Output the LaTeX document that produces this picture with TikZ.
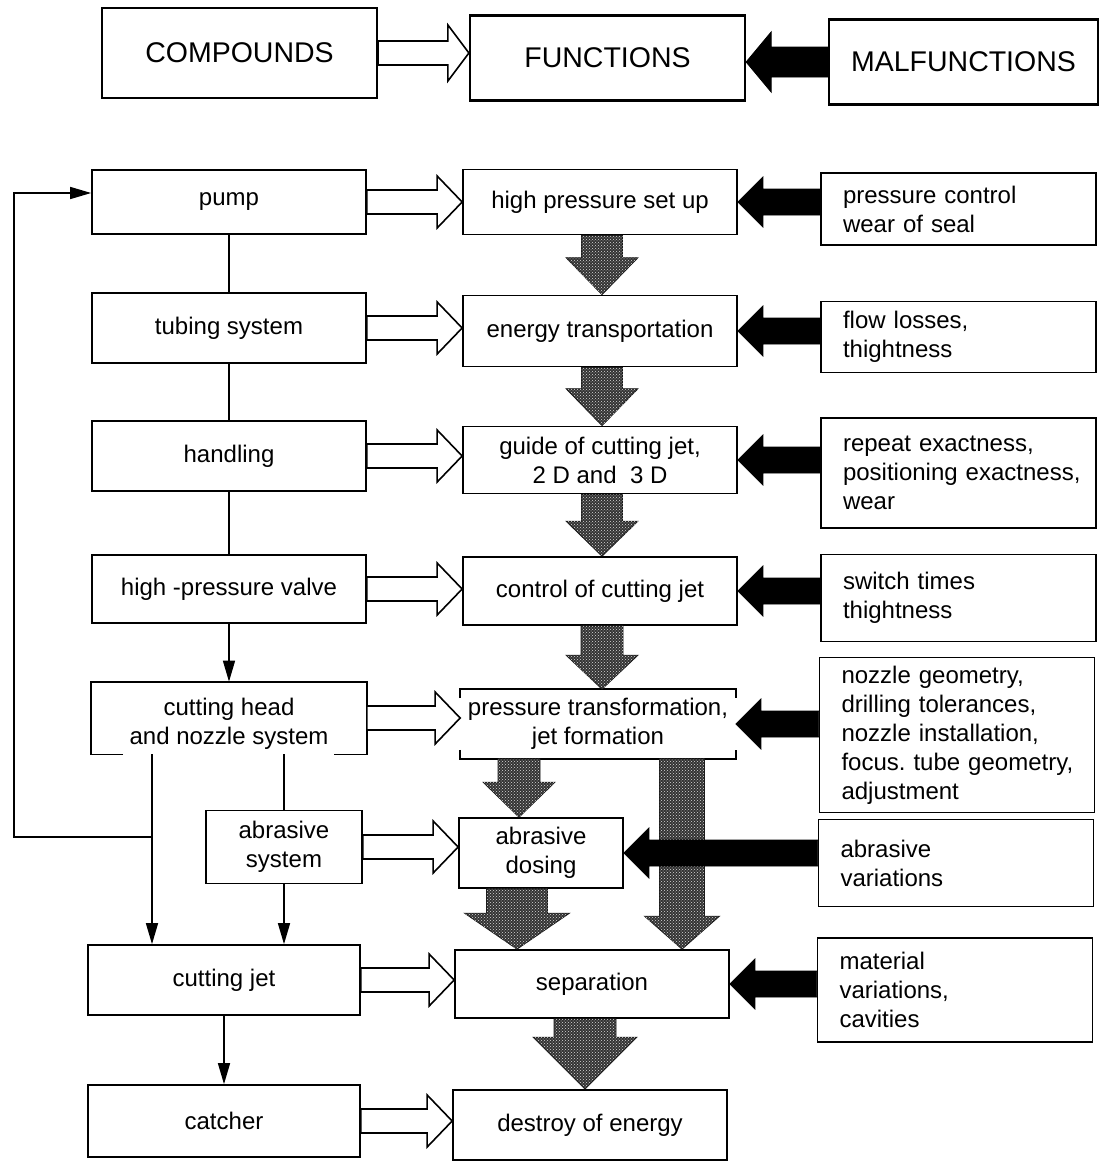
\documentclass[tikz,border=0pt]{standalone}
\usepackage{fontspec}
\setmainfont{Liberation Sans}
\usetikzlibrary{calc,patterns,arrows.meta}
\newcommand\blockarr[6]{%
  \path (#2) coordinate (ba-s) (#3) coordinate (ba-t);
  \path ($(ba-t)!#6!(ba-s)$) coordinate (ba-h);
  \path[#1] ($(ba-s)!#4!90:(ba-t)$) -- ($(ba-h)!#4!90:(ba-t)$) -- ($(ba-h)!#5!90:(ba-t)$) -- (ba-t) -- ($(ba-h)!#5!-90:(ba-t)$) -- ($(ba-h)!#4!-90:(ba-t)$) -- ($(ba-s)!#4!-90:(ba-t)$) -- cycle;}
\tikzset{
  bx/.style={draw, line width=1.7pt, inner sep=0pt, align=center, font=\fontsize{24}{29}\selectfont},
  rbx/.style={draw, line width=1.7pt, inner xsep=22pt, inner ysep=0pt, text width=231pt, align=left, font=\fontsize{24}{29}\selectfont},
  topbx/.style={draw, line width=2.2pt, inner sep=0pt, font=\fontsize{28.5}{34}\selectfont},
  conn/.style={line width=1.5pt},
  conarr/.style={conn, -{Triangle[length=21pt,width=12pt]}},
  openarr/.style={draw, fill=white, line width=1.6pt, line join=miter},
  blackarr/.style={draw=black, fill=black, line width=0.8pt, line join=miter},
  grayarr/.style={draw=black!90, fill=black!80, line width=0.8pt, line join=miter, postaction={pattern=crosshatch dots, pattern color=white!85!black}},
}
\begin{document}
\begin{tikzpicture}[x=1pt,y=-1pt]
\useasboundingbox (0,0) rectangle (1106,1162);
\fill[white] (0,0) rectangle (1106,1162);

% top row
\node[topbx, minimum width=275pt, minimum height=90pt] (cmp) at (239.5,53) {COMPOUNDS};
\node[topbx, minimum width=275pt, minimum height=85pt] (fun) at (607.5,58) {FUNCTIONS};
\node[topbx, minimum width=269pt, minimum height=85pt] (mal) at (963.5,62) {MALFUNCTIONS};

% left column
\node[bx, minimum width=274pt, minimum height=64pt] (pump) at (229,202) {pump};
\node[bx, minimum width=274pt, minimum height=70pt] (tub) at (229,328) {tubing system};
\node[bx, minimum width=274pt, minimum height=70pt] (han) at (229,456) {handling};
\node[bx, minimum width=274pt, minimum height=68pt] (val) at (229,589) {high -pressure valve};
\node[bx, draw=none, minimum width=274pt, minimum height=71pt] (ch) at (229,718) {};
\node[bx, draw=none] (cht) at (229,724) {cutting head\\and nozzle system};
\draw[line width=1.7pt] ([xshift=32pt]ch.south west) -- (ch.south west) -- (ch.north west) -- (ch.north east) -- (ch.south east) -- ([xshift=-33pt]ch.south east);
\node[bx, minimum width=156pt, minimum height=73pt] (as) at (284,847) {abrasive\\system};
\node[bx, minimum width=272pt, minimum height=70pt] (cj) at (224,980) {cutting jet};
\node[bx, minimum width=272pt, minimum height=72pt] (cat) at (224,1121) {catcher};

% middle column
\node[bx, minimum width=274pt, minimum height=65pt] (hps) at (600,202) {high pressure set up};
\node[bx, minimum width=274pt, minimum height=71pt] (ene) at (600,331) {energy transportation};
\node[bx, minimum width=274pt, minimum height=67pt] (gui) at (600,460) {guide of cutting jet,\\2 D and \ 3 D};
\node[bx, minimum width=274pt, minimum height=68pt] (con) at (600,591) {control of cutting jet};
\node[bx, draw=none, minimum width=274pt, minimum height=68pt] (pt) at (598,724) {pressure transformation,\\jet formation};
\draw[line width=1.7pt] ([yshift=-9pt]pt.north west) -- (pt.north west) -- (pt.north east) -- ([yshift=-9pt]pt.north east);
\draw[line width=1.7pt] ([yshift=9pt]pt.south west) -- (pt.south west) -- (pt.south east) -- ([yshift=9pt]pt.south east);
\node[bx, minimum width=164pt, minimum height=70pt] (dos) at (541,853) {abrasive\\dosing};
\node[bx, minimum width=274pt, minimum height=68pt] (sep) at (592,984) {separation};
\node[bx, minimum width=274pt, minimum height=70pt] (des) at (590,1125) {destroy of energy};

% right column
\node[rbx, minimum height=72pt] (r1) at (958.5,209) {\mbox{pressure control}\\\mbox{wear of seal}};
\node[rbx, minimum height=71pt] (r2) at (958.5,337) {\mbox{flow losses,}\\\mbox{thightness}};
\node[rbx, minimum height=110pt] (r3) at (958.5,473) {\mbox{repeat exactness,}\\\mbox{positioning exactness,}\\\mbox{wear}};
\node[rbx, minimum height=87pt] (r4) at (958.5,598) {\mbox{switch times}\\\mbox{thightness}};
\node[rbx, minimum height=155pt] (r5) at (957,735) {\mbox{nozzle geometry,}\\\mbox{drilling tolerances,}\\\mbox{nozzle installation,}\\\mbox{focus.\ tube geometry,}\\\mbox{adjustment}};
\node[rbx, minimum height=87pt] (r6) at (956,863) {\mbox{abrasive}\\\mbox{variations}};
\node[rbx, minimum height=104pt] (r7) at (955,990) {\mbox{material}\\\mbox{variations,}\\\mbox{cavities}};

% thin connectors
\coordinate (cx) at (152,0);
\coordinate (fb) at (152,837);
\coordinate (fbl) at (14,837);
\draw[conn] (pump.south) -- (tub.north);
\draw[conn] (tub.south) -- (han.north);
\draw[conn] (han.south) -- (val.north);
\draw[conarr] (val.south) -- (ch.north);
\draw[conarr] (ch.south -| cx) -- (cj.north -| cx);
\draw[conarr] (fb) -- (fbl) |- ([yshift=9pt]pump.west);
\draw[conn] (ch.south -| as.north) -- (as.north);
\draw[conarr] (as.south) -- (cj.north -| as.south);
\draw[conarr] (cj.south) -- (cat.north);

% gray block arrows
\coordinate (gx) at (602,0);
\coordinate (g5) at (519,0);
\coordinate (g6) at (682,0);
\coordinate (g7) at (517,0);
\coordinate (g8) at (585,0);
\blockarr{grayarr}{gx |- hps.south}{gx |- ene.north}{20.5pt}{36pt}{37pt}
\blockarr{grayarr}{gx |- ene.south}{gx |- gui.north}{20.5pt}{36pt}{37pt}
\blockarr{grayarr}{gx |- gui.south}{gx |- con.north}{20.5pt}{36pt}{35pt}
\blockarr{grayarr}{gx |- con.south}{gx |- pt.north}{21pt}{36pt}{34pt}
\blockarr{grayarr}{g5 |- pt.south}{g5 |- dos.north}{21pt}{36pt}{35pt}
\blockarr{grayarr}{g6 |- pt.south}{g6 |- sep.north}{22.5pt}{37.5pt}{33pt}
\blockarr{grayarr}{g7 |- dos.south}{g7 |- sep.north}{30.5pt}{52.5pt}{36pt}
\blockarr{grayarr}{g8 |- sep.south}{g8 |- des.north}{31pt}{52pt}{52pt}

% black block arrows
\blockarr{blackarr}{mal.west}{fun.east |- mal.west}{15pt}{30pt}{25pt}
\blockarr{blackarr}{r1.west |- hps.east}{hps.east}{13pt}{25pt}{25pt}
\blockarr{blackarr}{r2.west |- ene.east}{ene.east}{13pt}{25pt}{25pt}
\blockarr{blackarr}{r3.west |- gui.east}{gui.east}{13pt}{25pt}{25pt}
\blockarr{blackarr}{r4.west |- con.east}{con.east}{13pt}{25pt}{25pt}
\blockarr{blackarr}{r5.west |- pt.east}{pt.east}{13pt}{25pt}{25pt}
\blockarr{blackarr}{r6.west |- dos.east}{dos.east}{13pt}{25pt}{25pt}
\blockarr{blackarr}{r7.west |- sep.east}{sep.east}{13pt}{25pt}{25pt}

% open block arrows
\blockarr{openarr}{cmp.east}{fun.west |- cmp.east}{12pt}{28pt}{21pt}
\blockarr{openarr}{pump.east}{hps.west |- pump.east}{12pt}{26pt}{25pt}
\blockarr{openarr}{tub.east}{ene.west |- tub.east}{12pt}{26pt}{25pt}
\blockarr{openarr}{han.east}{gui.west |- han.east}{12pt}{26pt}{25pt}
\blockarr{openarr}{val.east}{con.west |- val.east}{12pt}{26pt}{25pt}
\blockarr{openarr}{ch.east}{pt.west |- ch.east}{12pt}{26pt}{25pt}
\blockarr{openarr}{as.east}{dos.west |- as.east}{12pt}{26pt}{25pt}
\blockarr{openarr}{cj.east}{sep.west |- cj.east}{12pt}{26pt}{25pt}
\blockarr{openarr}{cat.east}{des.west |- cat.east}{12pt}{26pt}{25pt}
\end{tikzpicture}
\end{document}
